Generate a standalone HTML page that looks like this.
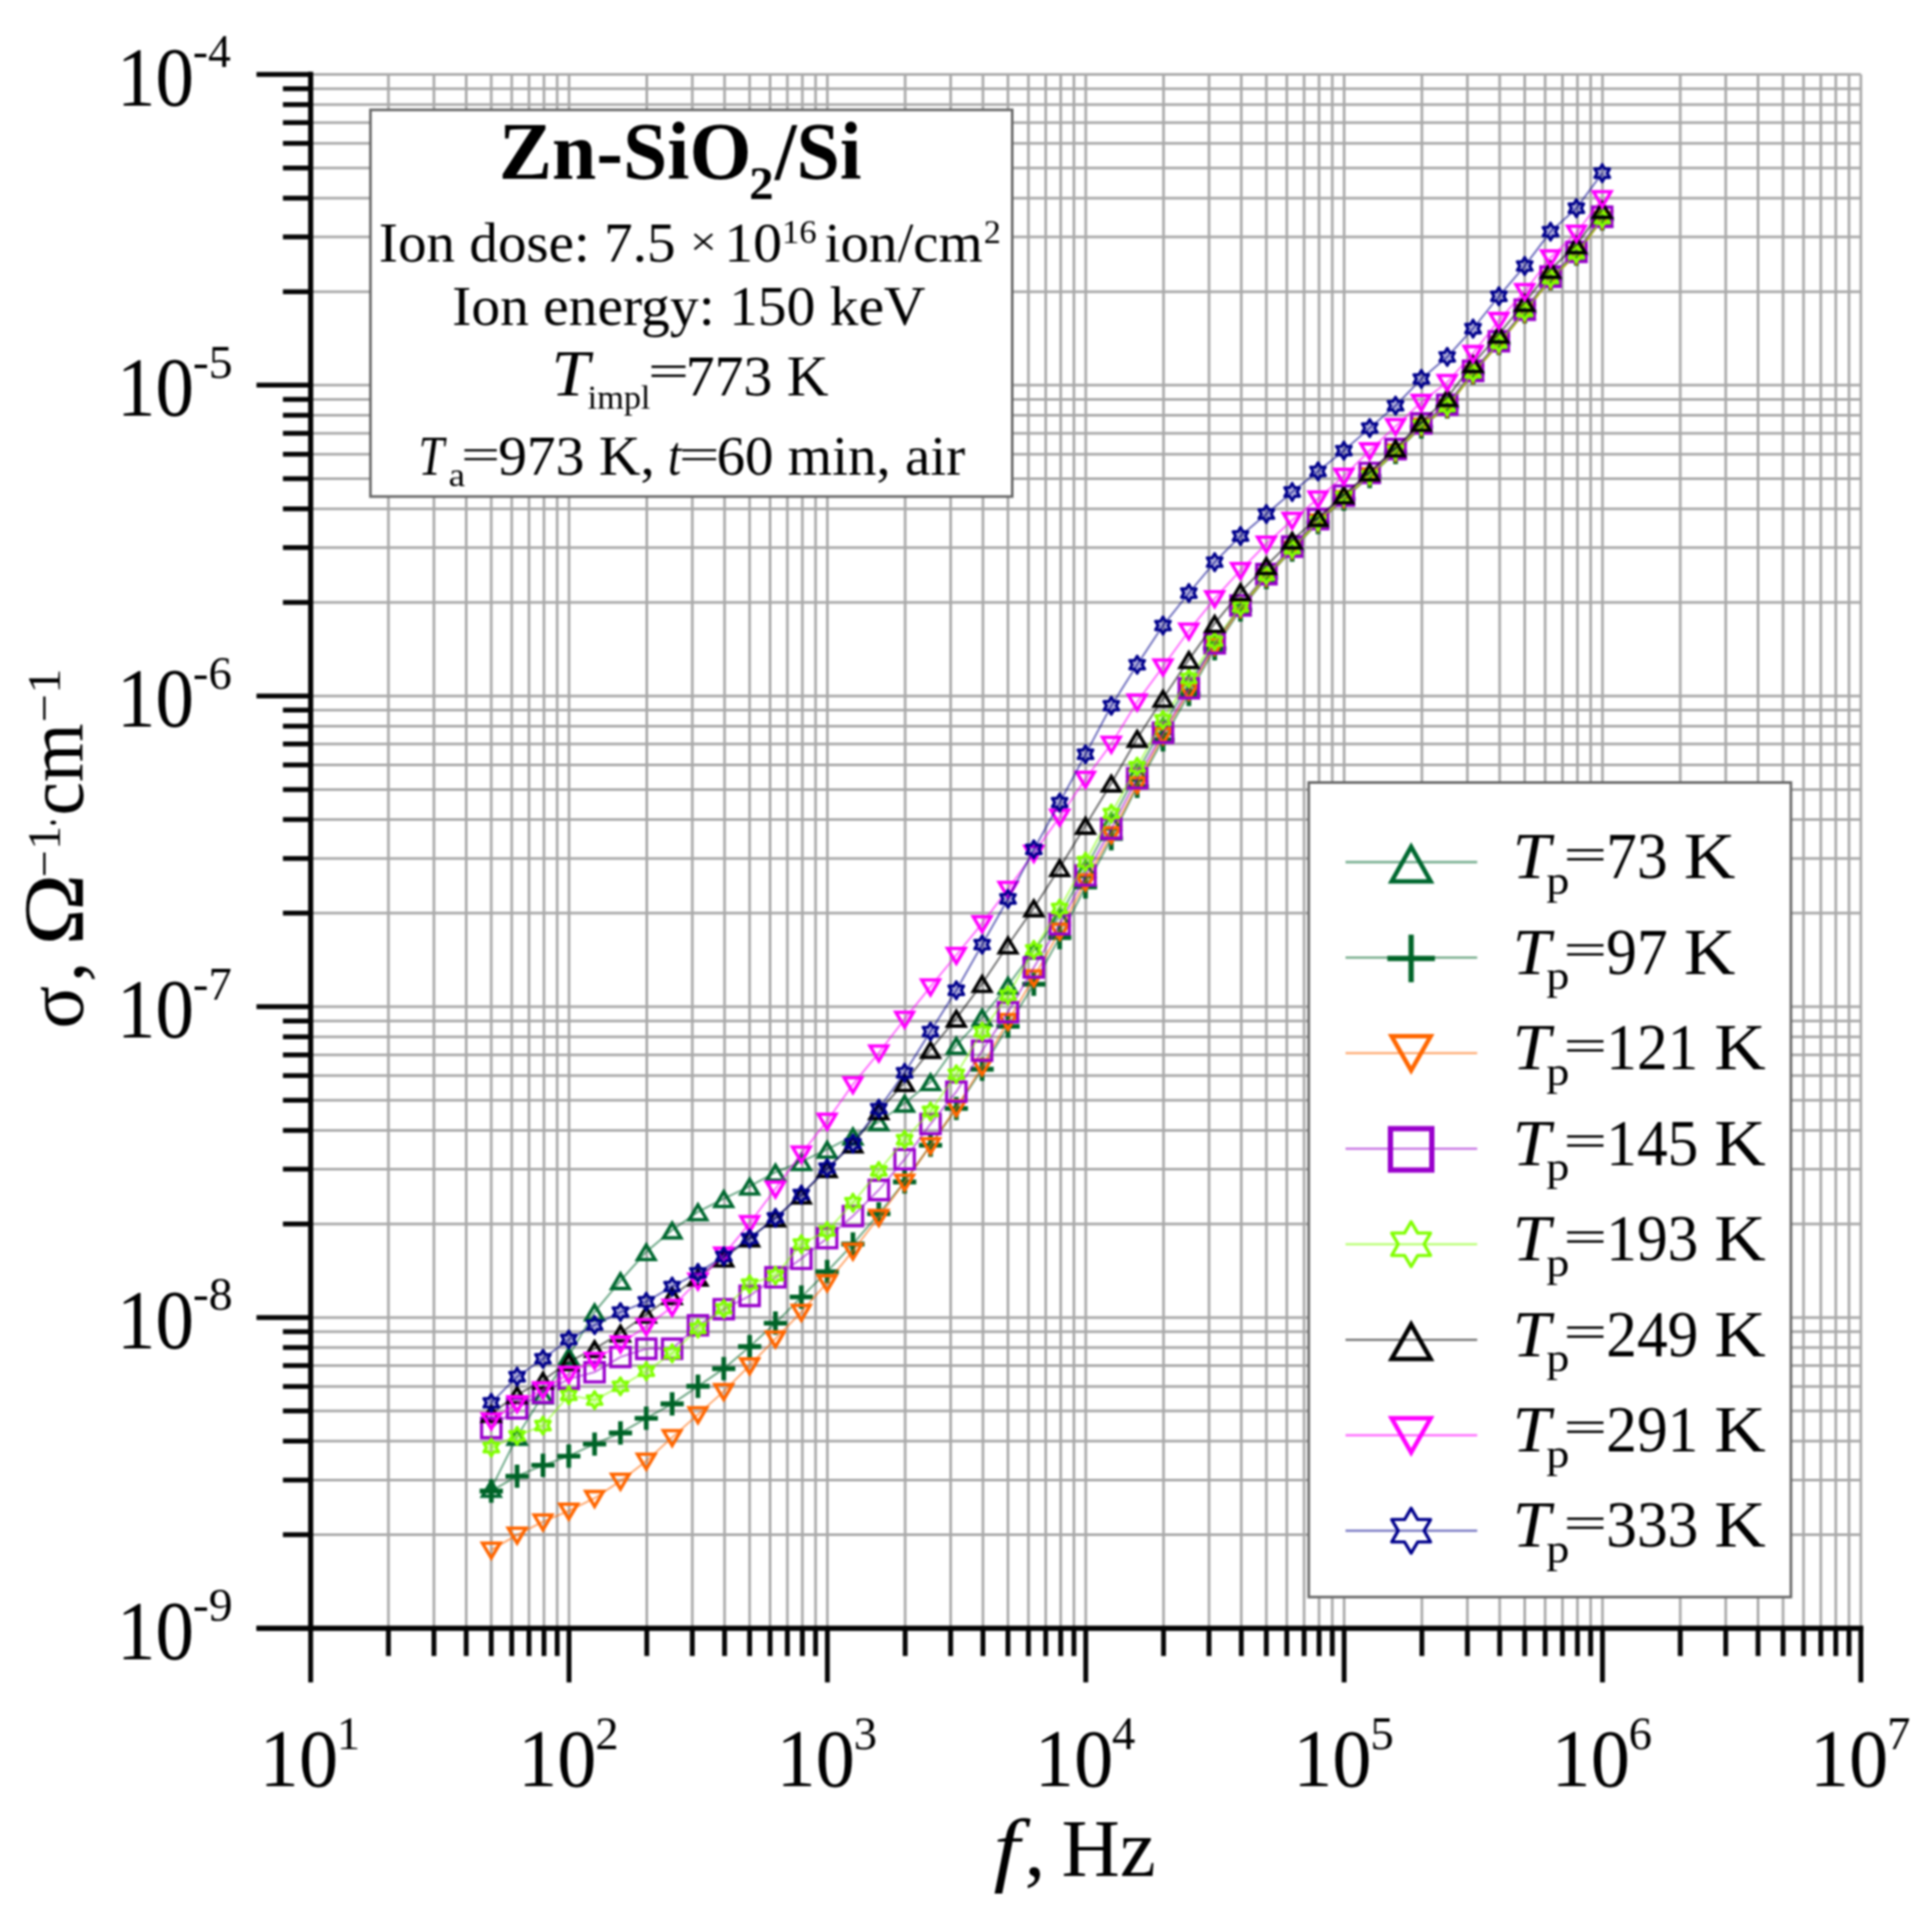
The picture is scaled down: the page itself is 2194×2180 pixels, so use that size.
<!DOCTYPE html>
<html lang="en"><head><meta charset="utf-8"><title>Zn-SiO2/Si conductivity vs frequency</title>
<style>
html,body{margin:0;padding:0;background:#fff;}
body{width:2194px;height:2180px;overflow:hidden;}
svg{display:block;filter:blur(0.8px);}
text{font-family:"Liberation Serif",serif;fill:#000;}
.it{font-style:italic;}
.b{font-weight:bold;}
</style></head><body>
<svg width="2194" height="2180" viewBox="0 0 2194 2180">
<rect x="0" y="0" width="2194" height="2180" fill="#fff"/>
<path d="M441.12 84.50V1848.75M492.79 84.50V1848.75M529.44 84.50V1848.75M557.88 84.50V1848.75M581.11 84.50V1848.75M600.75 84.50V1848.75M617.77 84.50V1848.75M632.77 84.50V1848.75M646.20 84.50V1848.75M734.52 84.50V1848.75M786.19 84.50V1848.75M822.84 84.50V1848.75M851.28 84.50V1848.75M874.51 84.50V1848.75M894.15 84.50V1848.75M911.17 84.50V1848.75M926.17 84.50V1848.75M939.60 84.50V1848.75M1027.92 84.50V1848.75M1079.59 84.50V1848.75M1116.24 84.50V1848.75M1144.68 84.50V1848.75M1167.91 84.50V1848.75M1187.55 84.50V1848.75M1204.57 84.50V1848.75M1219.57 84.50V1848.75M1233.00 84.50V1848.75M1321.32 84.50V1848.75M1372.99 84.50V1848.75M1409.64 84.50V1848.75M1438.08 84.50V1848.75M1461.31 84.50V1848.75M1480.95 84.50V1848.75M1497.97 84.50V1848.75M1512.97 84.50V1848.75M1526.40 84.50V1848.75M1614.72 84.50V1848.75M1666.39 84.50V1848.75M1703.04 84.50V1848.75M1731.48 84.50V1848.75M1754.71 84.50V1848.75M1774.35 84.50V1848.75M1791.37 84.50V1848.75M1806.37 84.50V1848.75M1819.80 84.50V1848.75M1908.12 84.50V1848.75M1959.79 84.50V1848.75M1996.44 84.50V1848.75M2024.88 84.50V1848.75M2048.11 84.50V1848.75M2067.75 84.50V1848.75M2084.77 84.50V1848.75M2099.77 84.50V1848.75M2113.20 84.50V1848.75M352.80 1742.53H2113.20M352.80 1680.40H2113.20M352.80 1636.31H2113.20M352.80 1602.12H2113.20M352.80 1574.18H2113.20M352.80 1550.56H2113.20M352.80 1530.09H2113.20M352.80 1512.05H2113.20M352.80 1495.90H2113.20M352.80 1389.68H2113.20M352.80 1327.55H2113.20M352.80 1283.46H2113.20M352.80 1249.27H2113.20M352.80 1221.33H2113.20M352.80 1197.71H2113.20M352.80 1177.24H2113.20M352.80 1159.20H2113.20M352.80 1143.05H2113.20M352.80 1036.83H2113.20M352.80 974.70H2113.20M352.80 930.61H2113.20M352.80 896.42H2113.20M352.80 868.48H2113.20M352.80 844.86H2113.20M352.80 824.39H2113.20M352.80 806.35H2113.20M352.80 790.20H2113.20M352.80 683.98H2113.20M352.80 621.85H2113.20M352.80 577.76H2113.20M352.80 543.57H2113.20M352.80 515.63H2113.20M352.80 492.01H2113.20M352.80 471.54H2113.20M352.80 453.50H2113.20M352.80 437.35H2113.20M352.80 331.13H2113.20M352.80 269.00H2113.20M352.80 224.91H2113.20M352.80 190.72H2113.20M352.80 162.78H2113.20M352.80 139.16H2113.20M352.80 118.69H2113.20M352.80 100.65H2113.20M352.80 84.50H2113.20" fill="none" stroke="#a9a9a9" stroke-width="3.00"/>
<g id="curves">
<polyline points="557.9,1690.0 587.2,1631.0 616.6,1584.0 645.9,1539.7 675.2,1489.7 704.6,1454.2 733.9,1421.4 763.3,1396.7 792.6,1376.0 821.9,1361.0 851.3,1346.9 880.6,1331.0 910.0,1319.0 939.3,1305.0 968.6,1290.0 998.0,1273.8 1027.3,1252.7 1056.7,1228.4 1086.0,1187.0 1115.3,1155.0 1144.7,1118.8 1174.0,1079.0 1203.4,1040.5 1232.7,986.2 1262.0,932.3 1291.4,877.1 1320.7,824.6 1350.1,775.9 1379.4,731.5 1408.7,688.5 1438.1,652.9 1467.4,621.6 1496.8,590.4 1526.1,563.8 1555.4,538.0 1584.8,510.9 1614.1,481.8 1643.5,460.5 1672.8,422.1 1702.1,388.5 1731.5,352.6 1760.8,315.1 1790.2,287.0 1819.5,247.1" fill="none" stroke="#006830" stroke-width="2.2" stroke-opacity="0.55"/>
<path d="M547.9 1698.8L567.9 1698.8L557.9 1682.0ZM577.2 1639.8L597.2 1639.8L587.2 1623.0ZM606.6 1592.8L626.6 1592.8L616.6 1576.0ZM635.9 1548.5L655.9 1548.5L645.9 1531.7ZM665.2 1498.5L685.2 1498.5L675.2 1481.7ZM694.6 1463.0L714.6 1463.0L704.6 1446.2ZM723.9 1430.2L743.9 1430.2L733.9 1413.4ZM753.3 1405.5L773.3 1405.5L763.3 1388.7ZM782.6 1384.8L802.6 1384.8L792.6 1368.0ZM811.9 1369.8L831.9 1369.8L821.9 1353.0ZM841.3 1355.7L861.3 1355.7L851.3 1338.9ZM870.6 1339.8L890.6 1339.8L880.6 1323.0ZM900.0 1327.8L920.0 1327.8L910.0 1311.0ZM929.3 1313.8L949.3 1313.8L939.3 1297.0ZM958.6 1298.8L978.6 1298.8L968.6 1282.0ZM988.0 1282.5L1008.0 1282.5L998.0 1265.8ZM1017.3 1261.5L1037.3 1261.5L1027.3 1244.7ZM1046.7 1237.2L1066.7 1237.2L1056.7 1220.4ZM1076.0 1195.8L1096.0 1195.8L1086.0 1179.0ZM1105.3 1163.8L1125.3 1163.8L1115.3 1147.0ZM1134.7 1127.5L1154.7 1127.5L1144.7 1110.8ZM1164.0 1087.8L1184.0 1087.8L1174.0 1071.0ZM1193.4 1049.3L1213.4 1049.3L1203.4 1032.5ZM1222.7 995.0L1242.7 995.0L1232.7 978.2ZM1252.0 941.1L1272.0 941.1L1262.0 924.3ZM1281.4 885.9L1301.4 885.9L1291.4 869.1ZM1310.7 833.4L1330.7 833.4L1320.7 816.6ZM1340.1 784.7L1360.1 784.7L1350.1 767.9ZM1369.4 740.3L1389.4 740.3L1379.4 723.5ZM1398.7 697.3L1418.7 697.3L1408.7 680.5ZM1428.1 661.7L1448.1 661.7L1438.1 644.9ZM1457.4 630.4L1477.4 630.4L1467.4 613.6ZM1486.8 599.2L1506.8 599.2L1496.8 582.4ZM1516.1 572.6L1536.1 572.6L1526.1 555.8ZM1545.4 546.8L1565.4 546.8L1555.4 530.0ZM1574.8 519.7L1594.8 519.7L1584.8 502.9ZM1604.1 490.6L1624.1 490.6L1614.1 473.8ZM1633.5 469.3L1653.5 469.3L1643.5 452.5ZM1662.8 430.9L1682.8 430.9L1672.8 414.1ZM1692.1 397.3L1712.1 397.3L1702.1 380.5ZM1721.5 361.4L1741.5 361.4L1731.5 344.6ZM1750.8 323.9L1770.8 323.9L1760.8 307.1ZM1780.2 295.8L1800.2 295.8L1790.2 279.0ZM1809.5 255.9L1829.5 255.9L1819.5 239.1Z" fill="none" stroke="#006830" stroke-width="3.8" stroke-linejoin="miter"/>
<polyline points="557.9,1693.0 587.2,1676.1 616.6,1663.7 645.9,1653.3 675.2,1639.6 704.6,1627.0 733.9,1610.3 763.3,1594.0 792.6,1574.0 821.9,1554.0 851.3,1529.0 880.6,1502.3 910.0,1472.7 939.3,1443.8 968.6,1412.5 998.0,1378.1 1027.3,1342.0 1056.7,1300.3 1086.0,1258.6 1115.3,1214.0 1144.7,1165.4 1174.0,1117.5 1203.4,1064.5 1232.7,1007.0 1262.0,952.2 1291.4,892.8 1320.7,840.0 1350.1,788.5 1379.4,736.5 1408.7,692.5 1438.1,655.9 1467.4,624.6 1496.8,593.4 1526.1,566.8 1555.4,541.0 1584.8,513.9 1614.1,484.8 1643.5,462.0 1672.8,423.6 1702.1,390.0 1731.5,354.1 1760.8,316.6 1790.2,288.5 1819.5,248.6" fill="none" stroke="#006428" stroke-width="2.2" stroke-opacity="0.55"/>
<path d="M544.7 1693.0H571.1M557.9 1679.8V1706.2M574.0 1676.1H600.4M587.2 1662.9V1689.3M603.4 1663.7H629.8M616.6 1650.5V1676.9M632.7 1653.3H659.1M645.9 1640.1V1666.5M662.0 1639.6H688.4M675.2 1626.4V1652.8M691.4 1627.0H717.8M704.6 1613.8V1640.2M720.7 1610.3H747.1M733.9 1597.1V1623.5M750.1 1594.0H776.5M763.3 1580.8V1607.2M779.4 1574.0H805.8M792.6 1560.8V1587.2M808.7 1554.0H835.1M821.9 1540.8V1567.2M838.1 1529.0H864.5M851.3 1515.8V1542.2M867.4 1502.3H893.8M880.6 1489.1V1515.5M896.8 1472.7H923.2M910.0 1459.5V1485.9M926.1 1443.8H952.5M939.3 1430.5V1457.0M955.4 1412.5H981.8M968.6 1399.3V1425.7M984.8 1378.1H1011.2M998.0 1364.9V1391.3M1014.1 1342.0H1040.5M1027.3 1328.8V1355.2M1043.5 1300.3H1069.9M1056.7 1287.1V1313.5M1072.8 1258.6H1099.2M1086.0 1245.4V1271.8M1102.1 1214.0H1128.5M1115.3 1200.8V1227.2M1131.5 1165.4H1157.9M1144.7 1152.2V1178.6M1160.8 1117.5H1187.2M1174.0 1104.3V1130.7M1190.2 1064.5H1216.6M1203.4 1051.3V1077.7M1219.5 1007.0H1245.9M1232.7 993.8V1020.2M1248.8 952.2H1275.2M1262.0 939.0V965.4M1278.2 892.8H1304.6M1291.4 879.6V906.0M1307.5 840.0H1333.9M1320.7 826.8V853.2M1336.9 788.5H1363.3M1350.1 775.3V801.7M1366.2 736.5H1392.6M1379.4 723.3V749.7M1395.5 692.5H1421.9M1408.7 679.3V705.7M1424.9 655.9H1451.3M1438.1 642.7V669.1M1454.2 624.6H1480.6M1467.4 611.4V637.8M1483.6 593.4H1510.0M1496.8 580.2V606.6M1512.9 566.8H1539.3M1526.1 553.6V580.0M1542.2 541.0H1568.6M1555.4 527.8V554.2M1571.6 513.9H1598.0M1584.8 500.7V527.1M1600.9 484.8H1627.3M1614.1 471.6V498.0M1630.3 462.0H1656.7M1643.5 448.8V475.2M1659.6 423.6H1686.0M1672.8 410.4V436.8M1688.9 390.0H1715.3M1702.1 376.8V403.2M1718.3 354.1H1744.7M1731.5 340.9V367.3M1747.6 316.6H1774.0M1760.8 303.4V329.8M1777.0 288.5H1803.4M1790.2 275.3V301.7M1806.3 248.6H1832.7M1819.5 235.4V261.8" fill="none" stroke="#006428" stroke-width="5.3" stroke-linejoin="miter"/>
<polyline points="557.9,1759.7 587.2,1742.7 616.6,1727.8 645.9,1715.4 675.2,1701.1 704.6,1681.5 733.9,1658.8 763.3,1632.0 792.6,1606.0 821.9,1579.7 851.3,1550.4 880.6,1520.0 910.0,1489.7 939.3,1456.1 968.6,1420.2 998.0,1381.9 1027.3,1342.0 1056.7,1300.5 1086.0,1257.5 1115.3,1211.0 1144.7,1159.5 1174.0,1110.0 1203.4,1057.0 1232.7,1001.0 1262.0,947.5 1291.4,890.8 1320.7,835.0 1350.1,784.5 1379.4,733.5 1408.7,690.5 1438.1,654.9 1467.4,623.6 1496.8,592.4 1526.1,565.8 1555.4,540.0 1584.8,512.9 1614.1,483.8 1643.5,462.5 1672.8,424.1 1702.1,390.5 1731.5,354.6 1760.8,317.1 1790.2,289.0 1819.5,249.1" fill="none" stroke="#ff6600" stroke-width="2.2" stroke-opacity="0.55"/>
<path d="M547.9 1752.1L567.9 1752.1L557.9 1769.0ZM577.2 1735.1L597.2 1735.1L587.2 1752.0ZM606.6 1720.2L626.6 1720.2L616.6 1737.1ZM635.9 1707.8L655.9 1707.8L645.9 1724.7ZM665.2 1693.5L685.2 1693.5L675.2 1710.4ZM694.6 1673.9L714.6 1673.9L704.6 1690.8ZM723.9 1651.2L743.9 1651.2L733.9 1668.1ZM753.3 1624.4L773.3 1624.4L763.3 1641.3ZM782.6 1598.4L802.6 1598.4L792.6 1615.3ZM811.9 1572.1L831.9 1572.1L821.9 1589.0ZM841.3 1542.8L861.3 1542.8L851.3 1559.7ZM870.6 1512.4L890.6 1512.4L880.6 1529.3ZM900.0 1482.1L920.0 1482.1L910.0 1499.0ZM929.3 1448.5L949.3 1448.5L939.3 1465.4ZM958.6 1412.6L978.6 1412.6L968.6 1429.5ZM988.0 1374.3L1008.0 1374.3L998.0 1391.2ZM1017.3 1334.4L1037.3 1334.4L1027.3 1351.3ZM1046.7 1292.9L1066.7 1292.9L1056.7 1309.8ZM1076.0 1249.9L1096.0 1249.9L1086.0 1266.8ZM1105.3 1203.4L1125.3 1203.4L1115.3 1220.3ZM1134.7 1151.9L1154.7 1151.9L1144.7 1168.8ZM1164.0 1102.4L1184.0 1102.4L1174.0 1119.3ZM1193.4 1049.4L1213.4 1049.4L1203.4 1066.3ZM1222.7 993.4L1242.7 993.4L1232.7 1010.3ZM1252.0 939.9L1272.0 939.9L1262.0 956.8ZM1281.4 883.2L1301.4 883.2L1291.4 900.1ZM1310.7 827.4L1330.7 827.4L1320.7 844.3ZM1340.1 776.9L1360.1 776.9L1350.1 793.8ZM1369.4 725.9L1389.4 725.9L1379.4 742.8ZM1398.7 682.9L1418.7 682.9L1408.7 699.8ZM1428.1 647.3L1448.1 647.3L1438.1 664.2ZM1457.4 616.0L1477.4 616.0L1467.4 632.9ZM1486.8 584.8L1506.8 584.8L1496.8 601.7ZM1516.1 558.2L1536.1 558.2L1526.1 575.1ZM1545.4 532.4L1565.4 532.4L1555.4 549.3ZM1574.8 505.3L1594.8 505.3L1584.8 522.2ZM1604.1 476.2L1624.1 476.2L1614.1 493.1ZM1633.5 454.9L1653.5 454.9L1643.5 471.8ZM1662.8 416.5L1682.8 416.5L1672.8 433.4ZM1692.1 382.9L1712.1 382.9L1702.1 399.8ZM1721.5 347.0L1741.5 347.0L1731.5 363.9ZM1750.8 309.5L1770.8 309.5L1760.8 326.4ZM1780.2 281.4L1800.2 281.4L1790.2 298.3ZM1809.5 241.5L1829.5 241.5L1819.5 258.4Z" fill="none" stroke="#ff6600" stroke-width="3.8" stroke-linejoin="miter"/>
<polyline points="557.9,1621.4 587.2,1599.0 616.6,1581.4 645.9,1565.8 675.2,1558.0 704.6,1540.8 733.9,1531.4 763.3,1531.4 792.6,1504.8 821.9,1486.5 851.3,1471.4 880.6,1450.3 910.0,1429.2 939.3,1405.8 968.6,1380.8 998.0,1351.1 1027.3,1316.3 1056.7,1276.2 1086.0,1239.5 1115.3,1193.0 1144.7,1149.2 1174.0,1098.5 1203.4,1049.5 1232.7,994.0 1262.0,940.9 1291.4,883.8 1320.7,832.0 1350.1,781.5 1379.4,730.5 1408.7,687.5 1438.1,651.9 1467.4,620.6 1496.8,589.4 1526.1,562.8 1555.4,537.0 1584.8,509.9 1614.1,480.8 1643.5,459.5 1672.8,421.1 1702.1,387.5 1731.5,351.6 1760.8,314.1 1790.2,286.0 1819.5,246.1" fill="none" stroke="#9900cc" stroke-width="2.2" stroke-opacity="0.55"/>
<path d="M546.9 1610.4H568.9V1632.4H546.9ZM576.2 1588.0H598.2V1610.0H576.2ZM605.6 1570.4H627.6V1592.4H605.6ZM634.9 1554.8H656.9V1576.8H634.9ZM664.2 1547.0H686.2V1569.0H664.2ZM693.6 1529.8H715.6V1551.8H693.6ZM722.9 1520.4H744.9V1542.4H722.9ZM752.3 1520.4H774.3V1542.4H752.3ZM781.6 1493.8H803.6V1515.8H781.6ZM810.9 1475.5H832.9V1497.5H810.9ZM840.3 1460.4H862.3V1482.4H840.3ZM869.6 1439.3H891.6V1461.3H869.6ZM899.0 1418.2H921.0V1440.2H899.0ZM928.3 1394.8H950.3V1416.8H928.3ZM957.6 1369.8H979.6V1391.8H957.6ZM987.0 1340.1H1009.0V1362.1H987.0ZM1016.3 1305.3H1038.3V1327.3H1016.3ZM1045.7 1265.2H1067.7V1287.2H1045.7ZM1075.0 1228.5H1097.0V1250.5H1075.0ZM1104.3 1182.0H1126.3V1204.0H1104.3ZM1133.7 1138.2H1155.7V1160.2H1133.7ZM1163.0 1087.5H1185.0V1109.5H1163.0ZM1192.4 1038.5H1214.4V1060.5H1192.4ZM1221.7 983.0H1243.7V1005.0H1221.7ZM1251.0 929.9H1273.0V951.9H1251.0ZM1280.4 872.8H1302.4V894.8H1280.4ZM1309.7 821.0H1331.7V843.0H1309.7ZM1339.1 770.5H1361.1V792.5H1339.1ZM1368.4 719.5H1390.4V741.5H1368.4ZM1397.7 676.5H1419.7V698.5H1397.7ZM1427.1 640.9H1449.1V662.9H1427.1ZM1456.4 609.6H1478.4V631.6H1456.4ZM1485.8 578.4H1507.8V600.4H1485.8ZM1515.1 551.8H1537.1V573.8H1515.1ZM1544.4 526.0H1566.4V548.0H1544.4ZM1573.8 498.9H1595.8V520.9H1573.8ZM1603.1 469.8H1625.1V491.8H1603.1ZM1632.5 448.5H1654.5V470.5H1632.5ZM1661.8 410.1H1683.8V432.1H1661.8ZM1691.1 376.5H1713.1V398.5H1691.1ZM1720.5 340.6H1742.5V362.6H1720.5ZM1749.8 303.1H1771.8V325.1H1749.8ZM1779.2 275.0H1801.2V297.0H1779.2ZM1808.5 235.1H1830.5V257.1H1808.5Z" fill="none" stroke="#9900cc" stroke-width="3.6" stroke-linejoin="miter"/>
<polyline points="557.9,1643.6 587.2,1630.3 616.6,1618.6 645.9,1584.2 675.2,1589.7 704.6,1574.0 733.9,1556.9 763.3,1536.6 792.6,1508.4 821.9,1486.0 851.3,1458.0 880.6,1448.4 910.0,1412.5 939.3,1397.7 968.6,1365.6 998.0,1329.5 1027.3,1294.0 1056.7,1261.9 1086.0,1219.7 1115.3,1171.2 1144.7,1130.0 1174.0,1078.5 1203.4,1031.6 1232.7,978.4 1262.0,923.8 1291.4,870.5 1320.7,817.3 1350.1,770.3 1379.4,728.0 1408.7,689.0 1438.1,653.0 1467.4,623.0 1496.8,592.0 1526.1,564.0 1555.4,540.0 1584.8,511.9 1614.1,482.8 1643.5,461.5 1672.8,423.1 1702.1,389.5 1731.5,353.6 1760.8,316.1 1790.2,288.0 1819.5,248.1" fill="none" stroke="#80ff00" stroke-width="2.2" stroke-opacity="0.55"/>
<path d="M557.9 1633.8L560.7 1638.7L566.4 1638.7L563.5 1643.6L566.4 1648.5L560.7 1648.5L557.9 1653.4L555.0 1648.5L549.4 1648.5L552.2 1643.6L549.4 1638.7L555.0 1638.7ZM587.2 1620.5L590.0 1625.4L595.7 1625.4L592.9 1630.3L595.7 1635.2L590.0 1635.2L587.2 1640.1L584.4 1635.2L578.7 1635.2L581.6 1630.3L578.7 1625.4L584.4 1625.4ZM616.6 1608.8L619.4 1613.7L625.0 1613.7L622.2 1618.6L625.0 1623.5L619.4 1623.5L616.6 1628.4L613.7 1623.5L608.1 1623.5L610.9 1618.6L608.1 1613.7L613.7 1613.7ZM645.9 1574.4L648.7 1579.3L654.4 1579.3L651.6 1584.2L654.4 1589.1L648.7 1589.1L645.9 1594.0L643.1 1589.1L637.4 1589.1L640.2 1584.2L637.4 1579.3L643.1 1579.3ZM675.2 1579.9L678.1 1584.8L683.7 1584.8L680.9 1589.7L683.7 1594.6L678.1 1594.6L675.2 1599.5L672.4 1594.6L666.8 1594.6L669.6 1589.7L666.8 1584.8L672.4 1584.8ZM704.6 1564.2L707.4 1569.1L713.1 1569.1L710.2 1574.0L713.1 1578.9L707.4 1578.9L704.6 1583.8L701.7 1578.9L696.1 1578.9L698.9 1574.0L696.1 1569.1L701.7 1569.1ZM733.9 1547.1L736.7 1552.0L742.4 1552.0L739.6 1556.9L742.4 1561.8L736.7 1561.8L733.9 1566.7L731.1 1561.8L725.4 1561.8L728.3 1556.9L725.4 1552.0L731.1 1552.0ZM763.3 1526.8L766.1 1531.7L771.7 1531.7L768.9 1536.6L771.7 1541.5L766.1 1541.5L763.3 1546.4L760.4 1541.5L754.8 1541.5L757.6 1536.6L754.8 1531.7L760.4 1531.7ZM792.6 1498.6L795.4 1503.5L801.1 1503.5L798.3 1508.4L801.1 1513.3L795.4 1513.3L792.6 1518.2L789.8 1513.3L784.1 1513.3L786.9 1508.4L784.1 1503.5L789.8 1503.5ZM821.9 1476.2L824.8 1481.1L830.4 1481.1L827.6 1486.0L830.4 1490.9L824.8 1490.9L821.9 1495.8L819.1 1490.9L813.5 1490.9L816.3 1486.0L813.5 1481.1L819.1 1481.1ZM851.3 1448.2L854.1 1453.1L859.8 1453.1L856.9 1458.0L859.8 1462.9L854.1 1462.9L851.3 1467.8L848.4 1462.9L842.8 1462.9L845.6 1458.0L842.8 1453.1L848.4 1453.1ZM880.6 1438.6L883.4 1443.5L889.1 1443.5L886.3 1448.4L889.1 1453.3L883.4 1453.3L880.6 1458.2L877.8 1453.3L872.1 1453.3L875.0 1448.4L872.1 1443.5L877.8 1443.5ZM910.0 1402.7L912.8 1407.6L918.4 1407.6L915.6 1412.5L918.4 1417.4L912.8 1417.4L910.0 1422.3L907.1 1417.4L901.5 1417.4L904.3 1412.5L901.5 1407.6L907.1 1407.6ZM939.3 1387.9L942.1 1392.8L947.8 1392.8L945.0 1397.7L947.8 1402.6L942.1 1402.6L939.3 1407.5L936.5 1402.6L930.8 1402.6L933.6 1397.7L930.8 1392.8L936.5 1392.8ZM968.6 1355.8L971.5 1360.7L977.1 1360.7L974.3 1365.6L977.1 1370.5L971.5 1370.5L968.6 1375.4L965.8 1370.5L960.2 1370.5L963.0 1365.6L960.2 1360.7L965.8 1360.7ZM998.0 1319.7L1000.8 1324.6L1006.5 1324.6L1003.6 1329.5L1006.5 1334.4L1000.8 1334.4L998.0 1339.3L995.1 1334.4L989.5 1334.4L992.3 1329.5L989.5 1324.6L995.1 1324.6ZM1027.3 1284.2L1030.1 1289.1L1035.8 1289.1L1033.0 1294.0L1035.8 1298.9L1030.1 1298.9L1027.3 1303.8L1024.5 1298.9L1018.8 1298.9L1021.7 1294.0L1018.8 1289.1L1024.5 1289.1ZM1056.7 1252.1L1059.5 1257.0L1065.1 1257.0L1062.3 1261.9L1065.1 1266.8L1059.5 1266.8L1056.7 1271.7L1053.8 1266.8L1048.2 1266.8L1051.0 1261.9L1048.2 1257.0L1053.8 1257.0ZM1086.0 1209.9L1088.8 1214.8L1094.5 1214.8L1091.7 1219.7L1094.5 1224.6L1088.8 1224.6L1086.0 1229.5L1083.2 1224.6L1077.5 1224.6L1080.3 1219.7L1077.5 1214.8L1083.2 1214.8ZM1115.3 1161.5L1118.2 1166.3L1123.8 1166.3L1121.0 1171.2L1123.8 1176.2L1118.2 1176.2L1115.3 1181.0L1112.5 1176.2L1106.9 1176.2L1109.7 1171.2L1106.9 1166.3L1112.5 1166.3ZM1144.7 1120.2L1147.5 1125.1L1153.2 1125.1L1150.3 1130.0L1153.2 1134.9L1147.5 1134.9L1144.7 1139.8L1141.8 1134.9L1136.2 1134.9L1139.0 1130.0L1136.2 1125.1L1141.8 1125.1ZM1174.0 1068.7L1176.8 1073.6L1182.5 1073.6L1179.7 1078.5L1182.5 1083.4L1176.8 1083.4L1174.0 1088.3L1171.2 1083.4L1165.5 1083.4L1168.4 1078.5L1165.5 1073.6L1171.2 1073.6ZM1203.4 1021.8L1206.2 1026.7L1211.8 1026.7L1209.0 1031.6L1211.8 1036.5L1206.2 1036.5L1203.4 1041.4L1200.5 1036.5L1194.9 1036.5L1197.7 1031.6L1194.9 1026.7L1200.5 1026.7ZM1232.7 968.6L1235.5 973.5L1241.2 973.5L1238.4 978.4L1241.2 983.3L1235.5 983.3L1232.7 988.2L1229.9 983.3L1224.2 983.3L1227.0 978.4L1224.2 973.5L1229.9 973.5ZM1262.0 914.0L1264.9 918.9L1270.5 918.9L1267.7 923.8L1270.5 928.6L1264.9 928.6L1262.0 933.5L1259.2 928.6L1253.6 928.6L1256.4 923.8L1253.6 918.9L1259.2 918.9ZM1291.4 860.7L1294.2 865.6L1299.9 865.6L1297.0 870.5L1299.9 875.4L1294.2 875.4L1291.4 880.3L1288.5 875.4L1282.9 875.4L1285.7 870.5L1282.9 865.6L1288.5 865.6ZM1320.7 807.5L1323.5 812.4L1329.2 812.4L1326.4 817.3L1329.2 822.2L1323.5 822.2L1320.7 827.1L1317.9 822.2L1312.2 822.2L1315.1 817.3L1312.2 812.4L1317.9 812.4ZM1350.1 760.5L1352.9 765.4L1358.5 765.4L1355.7 770.3L1358.5 775.2L1352.9 775.2L1350.1 780.1L1347.2 775.2L1341.6 775.2L1344.4 770.3L1341.6 765.4L1347.2 765.4ZM1379.4 718.2L1382.2 723.1L1387.9 723.1L1385.1 728.0L1387.9 732.9L1382.2 732.9L1379.4 737.8L1376.6 732.9L1370.9 732.9L1373.7 728.0L1370.9 723.1L1376.6 723.1ZM1408.7 679.2L1411.6 684.1L1417.2 684.1L1414.4 689.0L1417.2 693.9L1411.6 693.9L1408.7 698.8L1405.9 693.9L1400.3 693.9L1403.1 689.0L1400.3 684.1L1405.9 684.1ZM1438.1 643.2L1440.9 648.1L1446.6 648.1L1443.7 653.0L1446.6 657.9L1440.9 657.9L1438.1 662.8L1435.2 657.9L1429.6 657.9L1432.4 653.0L1429.6 648.1L1435.2 648.1ZM1467.4 613.2L1470.2 618.1L1475.9 618.1L1473.1 623.0L1475.9 627.9L1470.2 627.9L1467.4 632.8L1464.6 627.9L1458.9 627.9L1461.8 623.0L1458.9 618.1L1464.6 618.1ZM1496.8 582.2L1499.6 587.1L1505.2 587.1L1502.4 592.0L1505.2 596.9L1499.6 596.9L1496.8 601.8L1493.9 596.9L1488.3 596.9L1491.1 592.0L1488.3 587.1L1493.9 587.1ZM1526.1 554.2L1528.9 559.1L1534.6 559.1L1531.8 564.0L1534.6 568.9L1528.9 568.9L1526.1 573.8L1523.3 568.9L1517.6 568.9L1520.4 564.0L1517.6 559.1L1523.3 559.1ZM1555.4 530.2L1558.3 535.1L1563.9 535.1L1561.1 540.0L1563.9 544.9L1558.3 544.9L1555.4 549.8L1552.6 544.9L1547.0 544.9L1549.8 540.0L1547.0 535.1L1552.6 535.1ZM1584.8 502.1L1587.6 507.0L1593.3 507.0L1590.4 511.9L1593.3 516.8L1587.6 516.8L1584.8 521.7L1581.9 516.8L1576.3 516.8L1579.1 511.9L1576.3 507.0L1581.9 507.0ZM1614.1 473.0L1616.9 477.9L1622.6 477.9L1619.8 482.8L1622.6 487.7L1616.9 487.7L1614.1 492.6L1611.3 487.7L1605.6 487.7L1608.5 482.8L1605.6 477.9L1611.3 477.9ZM1643.5 451.7L1646.3 456.6L1651.9 456.6L1649.1 461.5L1651.9 466.4L1646.3 466.4L1643.5 471.3L1640.6 466.4L1635.0 466.4L1637.8 461.5L1635.0 456.6L1640.6 456.6ZM1672.8 413.3L1675.6 418.2L1681.3 418.2L1678.5 423.1L1681.3 428.0L1675.6 428.0L1672.8 432.9L1670.0 428.0L1664.3 428.0L1667.1 423.1L1664.3 418.2L1670.0 418.2ZM1702.1 379.7L1705.0 384.6L1710.6 384.6L1707.8 389.5L1710.6 394.4L1705.0 394.4L1702.1 399.3L1699.3 394.4L1693.7 394.4L1696.5 389.5L1693.7 384.6L1699.3 384.6ZM1731.5 343.8L1734.3 348.7L1740.0 348.7L1737.1 353.6L1740.0 358.5L1734.3 358.5L1731.5 363.4L1728.6 358.5L1723.0 358.5L1725.8 353.6L1723.0 348.7L1728.6 348.7ZM1760.8 306.3L1763.6 311.2L1769.3 311.2L1766.5 316.1L1769.3 321.0L1763.6 321.0L1760.8 325.9L1758.0 321.0L1752.3 321.0L1755.2 316.1L1752.3 311.2L1758.0 311.2ZM1790.2 278.2L1793.0 283.1L1798.6 283.1L1795.8 288.0L1798.6 292.9L1793.0 292.9L1790.2 297.8L1787.3 292.9L1781.7 292.9L1784.5 288.0L1781.7 283.1L1787.3 283.1ZM1819.5 238.3L1822.3 243.2L1828.0 243.2L1825.2 248.1L1828.0 253.0L1822.3 253.0L1819.5 257.9L1816.7 253.0L1811.0 253.0L1813.8 248.1L1811.0 243.2L1816.7 243.2Z" fill="#80ff00" fill-opacity="0.3" stroke="#80ff00" stroke-width="3.3" stroke-linejoin="round"/>
<polyline points="557.9,1605.0 587.2,1583.8 616.6,1567.4 645.9,1546.3 675.2,1531.4 704.6,1513.7 733.9,1492.4 763.3,1471.3 792.6,1450.2 821.9,1428.5 851.3,1405.8 880.6,1383.0 910.0,1357.0 939.3,1327.0 968.6,1299.0 998.0,1261.4 1027.3,1229.4 1056.7,1191.9 1086.0,1156.2 1115.3,1116.8 1144.7,1073.0 1174.0,1031.0 1203.4,985.3 1232.7,937.2 1262.0,889.4 1291.4,838.5 1320.7,793.0 1350.1,749.0 1379.4,708.0 1408.7,672.0 1438.1,642.3 1467.4,613.4 1496.8,587.7 1526.1,562.0 1555.4,536.0 1584.8,508.9 1614.1,479.8 1643.5,451.5 1672.8,413.1 1702.1,379.5 1731.5,343.6 1760.8,306.1 1790.2,278.0 1819.5,238.1" fill="none" stroke="#000000" stroke-width="2.2" stroke-opacity="0.55"/>
<path d="M547.9 1613.8L567.9 1613.8L557.9 1597.0ZM577.2 1592.6L597.2 1592.6L587.2 1575.8ZM606.6 1576.2L626.6 1576.2L616.6 1559.4ZM635.9 1555.1L655.9 1555.1L645.9 1538.3ZM665.2 1540.2L685.2 1540.2L675.2 1523.4ZM694.6 1522.5L714.6 1522.5L704.6 1505.7ZM723.9 1501.2L743.9 1501.2L733.9 1484.4ZM753.3 1480.1L773.3 1480.1L763.3 1463.3ZM782.6 1459.0L802.6 1459.0L792.6 1442.2ZM811.9 1437.3L831.9 1437.3L821.9 1420.5ZM841.3 1414.6L861.3 1414.6L851.3 1397.8ZM870.6 1391.8L890.6 1391.8L880.6 1375.0ZM900.0 1365.8L920.0 1365.8L910.0 1349.0ZM929.3 1335.8L949.3 1335.8L939.3 1319.0ZM958.6 1307.8L978.6 1307.8L968.6 1291.0ZM988.0 1270.2L1008.0 1270.2L998.0 1253.4ZM1017.3 1238.2L1037.3 1238.2L1027.3 1221.4ZM1046.7 1200.7L1066.7 1200.7L1056.7 1183.9ZM1076.0 1165.0L1096.0 1165.0L1086.0 1148.2ZM1105.3 1125.6L1125.3 1125.6L1115.3 1108.8ZM1134.7 1081.8L1154.7 1081.8L1144.7 1065.0ZM1164.0 1039.8L1184.0 1039.8L1174.0 1023.0ZM1193.4 994.1L1213.4 994.1L1203.4 977.3ZM1222.7 946.0L1242.7 946.0L1232.7 929.2ZM1252.0 898.2L1272.0 898.2L1262.0 881.4ZM1281.4 847.3L1301.4 847.3L1291.4 830.5ZM1310.7 801.8L1330.7 801.8L1320.7 785.0ZM1340.1 757.8L1360.1 757.8L1350.1 741.0ZM1369.4 716.8L1389.4 716.8L1379.4 700.0ZM1398.7 680.8L1418.7 680.8L1408.7 664.0ZM1428.1 651.1L1448.1 651.1L1438.1 634.3ZM1457.4 622.2L1477.4 622.2L1467.4 605.4ZM1486.8 596.5L1506.8 596.5L1496.8 579.7ZM1516.1 570.8L1536.1 570.8L1526.1 554.0ZM1545.4 544.8L1565.4 544.8L1555.4 528.0ZM1574.8 517.7L1594.8 517.7L1584.8 500.9ZM1604.1 488.6L1624.1 488.6L1614.1 471.8ZM1633.5 460.3L1653.5 460.3L1643.5 443.5ZM1662.8 421.9L1682.8 421.9L1672.8 405.1ZM1692.1 388.3L1712.1 388.3L1702.1 371.5ZM1721.5 352.4L1741.5 352.4L1731.5 335.6ZM1750.8 314.9L1770.8 314.9L1760.8 298.1ZM1780.2 286.8L1800.2 286.8L1790.2 270.0ZM1809.5 246.9L1829.5 246.9L1819.5 230.1Z" fill="none" stroke="#000000" stroke-width="3.8" stroke-linejoin="miter"/>
<polyline points="557.9,1613.0 587.2,1593.5 616.6,1577.8 645.9,1560.0 675.2,1544.2 704.6,1525.6 733.9,1506.0 763.3,1484.0 792.6,1454.3 821.9,1424.7 851.3,1389.0 880.6,1349.7 910.0,1310.0 939.3,1272.7 968.6,1231.2 998.0,1195.3 1027.3,1157.0 1056.7,1120.3 1086.0,1084.4 1115.3,1048.5 1144.7,1009.5 1174.0,968.6 1203.4,927.5 1232.7,884.4 1262.0,844.7 1291.4,796.8 1320.7,756.9 1350.1,716.2 1379.4,679.5 1408.7,647.5 1438.1,617.4 1467.4,590.5 1496.8,566.2 1526.1,540.5 1555.4,511.6 1584.8,484.0 1614.1,456.6 1643.5,433.9 1672.8,401.1 1702.1,363.6 1731.5,330.8 1760.8,292.5 1790.2,264.4 1819.5,225.3" fill="none" stroke="#ff00ff" stroke-width="2.2" stroke-opacity="0.55"/>
<path d="M547.9 1605.4L567.9 1605.4L557.9 1622.3ZM577.2 1585.9L597.2 1585.9L587.2 1602.8ZM606.6 1570.2L626.6 1570.2L616.6 1587.1ZM635.9 1552.4L655.9 1552.4L645.9 1569.3ZM665.2 1536.6L685.2 1536.6L675.2 1553.5ZM694.6 1518.0L714.6 1518.0L704.6 1534.9ZM723.9 1498.4L743.9 1498.4L733.9 1515.3ZM753.3 1476.4L773.3 1476.4L763.3 1493.3ZM782.6 1446.7L802.6 1446.7L792.6 1463.6ZM811.9 1417.1L831.9 1417.1L821.9 1434.0ZM841.3 1381.4L861.3 1381.4L851.3 1398.3ZM870.6 1342.1L890.6 1342.1L880.6 1359.0ZM900.0 1302.4L920.0 1302.4L910.0 1319.3ZM929.3 1265.1L949.3 1265.1L939.3 1282.0ZM958.6 1223.7L978.6 1223.7L968.6 1240.5ZM988.0 1187.7L1008.0 1187.7L998.0 1204.6ZM1017.3 1149.4L1037.3 1149.4L1027.3 1166.3ZM1046.7 1112.7L1066.7 1112.7L1056.7 1129.6ZM1076.0 1076.8L1096.0 1076.8L1086.0 1093.7ZM1105.3 1040.9L1125.3 1040.9L1115.3 1057.8ZM1134.7 1001.9L1154.7 1001.9L1144.7 1018.8ZM1164.0 961.0L1184.0 961.0L1174.0 977.9ZM1193.4 919.9L1213.4 919.9L1203.4 936.8ZM1222.7 876.8L1242.7 876.8L1232.7 893.7ZM1252.0 837.1L1272.0 837.1L1262.0 854.0ZM1281.4 789.2L1301.4 789.2L1291.4 806.1ZM1310.7 749.3L1330.7 749.3L1320.7 766.2ZM1340.1 708.6L1360.1 708.6L1350.1 725.5ZM1369.4 671.9L1389.4 671.9L1379.4 688.8ZM1398.7 639.9L1418.7 639.9L1408.7 656.8ZM1428.1 609.8L1448.1 609.8L1438.1 626.7ZM1457.4 582.9L1477.4 582.9L1467.4 599.8ZM1486.8 558.6L1506.8 558.6L1496.8 575.5ZM1516.1 532.9L1536.1 532.9L1526.1 549.8ZM1545.4 504.0L1565.4 504.0L1555.4 520.9ZM1574.8 476.4L1594.8 476.4L1584.8 493.3ZM1604.1 449.0L1624.1 449.0L1614.1 465.9ZM1633.5 426.3L1653.5 426.3L1643.5 443.2ZM1662.8 393.5L1682.8 393.5L1672.8 410.4ZM1692.1 356.0L1712.1 356.0L1702.1 372.9ZM1721.5 323.2L1741.5 323.2L1731.5 340.1ZM1750.8 284.9L1770.8 284.9L1760.8 301.8ZM1780.2 256.8L1800.2 256.8L1790.2 273.7ZM1809.5 217.7L1829.5 217.7L1819.5 234.6Z" fill="none" stroke="#ff00ff" stroke-width="3.8" stroke-linejoin="miter"/>
<polyline points="557.9,1592.8 587.2,1563.1 616.6,1542.8 645.9,1520.9 675.2,1504.5 704.6,1489.7 733.9,1478.0 763.3,1460.8 792.6,1445.2 821.9,1426.5 851.3,1406.2 880.6,1382.8 910.0,1356.2 939.3,1326.3 968.6,1298.5 998.0,1258.8 1027.3,1218.1 1056.7,1171.2 1086.0,1124.4 1115.3,1072.5 1144.7,1020.6 1174.0,964.4 1203.4,911.2 1232.7,856.4 1262.0,801.3 1291.4,754.7 1320.7,710.2 1350.1,673.4 1379.4,638.3 1408.7,608.6 1438.1,583.6 1467.4,558.6 1496.8,535.2 1526.1,511.7 1555.4,486.0 1584.8,460.6 1614.1,430.2 1643.5,405.2 1672.8,373.1 1702.1,336.4 1731.5,302.0 1760.8,263.0 1790.2,236.4 1819.5,196.6" fill="none" stroke="#00008c" stroke-width="2.2" stroke-opacity="0.55"/>
<path d="M557.9 1583.0L560.7 1587.9L566.4 1587.9L563.5 1592.8L566.4 1597.7L560.7 1597.7L557.9 1602.6L555.0 1597.7L549.4 1597.7L552.2 1592.8L549.4 1587.9L555.0 1587.9ZM587.2 1553.3L590.0 1558.2L595.7 1558.2L592.9 1563.1L595.7 1568.0L590.0 1568.0L587.2 1572.9L584.4 1568.0L578.7 1568.0L581.6 1563.1L578.7 1558.2L584.4 1558.2ZM616.6 1533.0L619.4 1537.9L625.0 1537.9L622.2 1542.8L625.0 1547.7L619.4 1547.7L616.6 1552.6L613.7 1547.7L608.1 1547.7L610.9 1542.8L608.1 1537.9L613.7 1537.9ZM645.9 1511.1L648.7 1516.0L654.4 1516.0L651.6 1520.9L654.4 1525.8L648.7 1525.8L645.9 1530.7L643.1 1525.8L637.4 1525.8L640.2 1520.9L637.4 1516.0L643.1 1516.0ZM675.2 1494.7L678.1 1499.6L683.7 1499.6L680.9 1504.5L683.7 1509.4L678.1 1509.4L675.2 1514.3L672.4 1509.4L666.8 1509.4L669.6 1504.5L666.8 1499.6L672.4 1499.6ZM704.6 1479.9L707.4 1484.8L713.1 1484.8L710.2 1489.7L713.1 1494.6L707.4 1494.6L704.6 1499.5L701.7 1494.6L696.1 1494.6L698.9 1489.7L696.1 1484.8L701.7 1484.8ZM733.9 1468.2L736.7 1473.1L742.4 1473.1L739.6 1478.0L742.4 1482.9L736.7 1482.9L733.9 1487.8L731.1 1482.9L725.4 1482.9L728.3 1478.0L725.4 1473.1L731.1 1473.1ZM763.3 1451.0L766.1 1455.9L771.7 1455.9L768.9 1460.8L771.7 1465.7L766.1 1465.7L763.3 1470.6L760.4 1465.7L754.8 1465.7L757.6 1460.8L754.8 1455.9L760.4 1455.9ZM792.6 1435.4L795.4 1440.3L801.1 1440.3L798.3 1445.2L801.1 1450.1L795.4 1450.1L792.6 1455.0L789.8 1450.1L784.1 1450.1L786.9 1445.2L784.1 1440.3L789.8 1440.3ZM821.9 1416.7L824.8 1421.6L830.4 1421.6L827.6 1426.5L830.4 1431.4L824.8 1431.4L821.9 1436.3L819.1 1431.4L813.5 1431.4L816.3 1426.5L813.5 1421.6L819.1 1421.6ZM851.3 1396.5L854.1 1401.3L859.8 1401.3L856.9 1406.2L859.8 1411.2L854.1 1411.2L851.3 1416.0L848.4 1411.2L842.8 1411.2L845.6 1406.2L842.8 1401.3L848.4 1401.3ZM880.6 1373.0L883.4 1377.9L889.1 1377.9L886.3 1382.8L889.1 1387.7L883.4 1387.7L880.6 1392.6L877.8 1387.7L872.1 1387.7L875.0 1382.8L872.1 1377.9L877.8 1377.9ZM910.0 1346.5L912.8 1351.3L918.4 1351.3L915.6 1356.2L918.4 1361.2L912.8 1361.2L910.0 1366.0L907.1 1361.2L901.5 1361.2L904.3 1356.2L901.5 1351.3L907.1 1351.3ZM939.3 1316.5L942.1 1321.4L947.8 1321.4L945.0 1326.3L947.8 1331.2L942.1 1331.2L939.3 1336.1L936.5 1331.2L930.8 1331.2L933.6 1326.3L930.8 1321.4L936.5 1321.4ZM968.6 1288.7L971.5 1293.6L977.1 1293.6L974.3 1298.5L977.1 1303.4L971.5 1303.4L968.6 1308.3L965.8 1303.4L960.2 1303.4L963.0 1298.5L960.2 1293.6L965.8 1293.6ZM998.0 1249.0L1000.8 1253.8L1006.5 1253.8L1003.6 1258.8L1006.5 1263.7L1000.8 1263.7L998.0 1268.5L995.1 1263.7L989.5 1263.7L992.3 1258.8L989.5 1253.8L995.1 1253.8ZM1027.3 1208.3L1030.1 1213.2L1035.8 1213.2L1033.0 1218.1L1035.8 1223.0L1030.1 1223.0L1027.3 1227.9L1024.5 1223.0L1018.8 1223.0L1021.7 1218.1L1018.8 1213.2L1024.5 1213.2ZM1056.7 1161.5L1059.5 1166.3L1065.1 1166.3L1062.3 1171.2L1065.1 1176.2L1059.5 1176.2L1056.7 1181.0L1053.8 1176.2L1048.2 1176.2L1051.0 1171.2L1048.2 1166.3L1053.8 1166.3ZM1086.0 1114.6L1088.8 1119.5L1094.5 1119.5L1091.7 1124.4L1094.5 1129.3L1088.8 1129.3L1086.0 1134.2L1083.2 1129.3L1077.5 1129.3L1080.3 1124.4L1077.5 1119.5L1083.2 1119.5ZM1115.3 1062.7L1118.2 1067.6L1123.8 1067.6L1121.0 1072.5L1123.8 1077.4L1118.2 1077.4L1115.3 1082.3L1112.5 1077.4L1106.9 1077.4L1109.7 1072.5L1106.9 1067.6L1112.5 1067.6ZM1144.7 1010.8L1147.5 1015.7L1153.2 1015.7L1150.3 1020.6L1153.2 1025.5L1147.5 1025.5L1144.7 1030.4L1141.8 1025.5L1136.2 1025.5L1139.0 1020.6L1136.2 1015.7L1141.8 1015.7ZM1174.0 954.6L1176.8 959.5L1182.5 959.5L1179.7 964.4L1182.5 969.3L1176.8 969.3L1174.0 974.2L1171.2 969.3L1165.5 969.3L1168.4 964.4L1165.5 959.5L1171.2 959.5ZM1203.4 901.5L1206.2 906.4L1211.8 906.4L1209.0 911.2L1211.8 916.1L1206.2 916.1L1203.4 921.0L1200.5 916.1L1194.9 916.1L1197.7 911.2L1194.9 906.4L1200.5 906.4ZM1232.7 846.6L1235.5 851.5L1241.2 851.5L1238.4 856.4L1241.2 861.3L1235.5 861.3L1232.7 866.2L1229.9 861.3L1224.2 861.3L1227.0 856.4L1224.2 851.5L1229.9 851.5ZM1262.0 791.5L1264.9 796.4L1270.5 796.4L1267.7 801.3L1270.5 806.2L1264.9 806.2L1262.0 811.1L1259.2 806.2L1253.6 806.2L1256.4 801.3L1253.6 796.4L1259.2 796.4ZM1291.4 744.9L1294.2 749.8L1299.9 749.8L1297.0 754.7L1299.9 759.6L1294.2 759.6L1291.4 764.5L1288.5 759.6L1282.9 759.6L1285.7 754.7L1282.9 749.8L1288.5 749.8ZM1320.7 700.4L1323.5 705.3L1329.2 705.3L1326.4 710.2L1329.2 715.1L1323.5 715.1L1320.7 720.0L1317.9 715.1L1312.2 715.1L1315.1 710.2L1312.2 705.3L1317.9 705.3ZM1350.1 663.6L1352.9 668.5L1358.5 668.5L1355.7 673.4L1358.5 678.3L1352.9 678.3L1350.1 683.2L1347.2 678.3L1341.6 678.3L1344.4 673.4L1341.6 668.5L1347.2 668.5ZM1379.4 628.5L1382.2 633.4L1387.9 633.4L1385.1 638.3L1387.9 643.2L1382.2 643.2L1379.4 648.1L1376.6 643.2L1370.9 643.2L1373.7 638.3L1370.9 633.4L1376.6 633.4ZM1408.7 598.8L1411.6 603.7L1417.2 603.7L1414.4 608.6L1417.2 613.5L1411.6 613.5L1408.7 618.4L1405.9 613.5L1400.3 613.5L1403.1 608.6L1400.3 603.7L1405.9 603.7ZM1438.1 573.8L1440.9 578.7L1446.6 578.7L1443.7 583.6L1446.6 588.5L1440.9 588.5L1438.1 593.4L1435.2 588.5L1429.6 588.5L1432.4 583.6L1429.6 578.7L1435.2 578.7ZM1467.4 548.8L1470.2 553.7L1475.9 553.7L1473.1 558.6L1475.9 563.5L1470.2 563.5L1467.4 568.4L1464.6 563.5L1458.9 563.5L1461.8 558.6L1458.9 553.7L1464.6 553.7ZM1496.8 525.4L1499.6 530.3L1505.2 530.3L1502.4 535.2L1505.2 540.1L1499.6 540.1L1496.8 545.0L1493.9 540.1L1488.3 540.1L1491.1 535.2L1488.3 530.3L1493.9 530.3ZM1526.1 501.9L1528.9 506.8L1534.6 506.8L1531.8 511.7L1534.6 516.6L1528.9 516.6L1526.1 521.5L1523.3 516.6L1517.6 516.6L1520.4 511.7L1517.6 506.8L1523.3 506.8ZM1555.4 476.2L1558.3 481.1L1563.9 481.1L1561.1 486.0L1563.9 490.9L1558.3 490.9L1555.4 495.8L1552.6 490.9L1547.0 490.9L1549.8 486.0L1547.0 481.1L1552.6 481.1ZM1584.8 450.8L1587.6 455.7L1593.3 455.7L1590.4 460.6L1593.3 465.5L1587.6 465.5L1584.8 470.4L1581.9 465.5L1576.3 465.5L1579.1 460.6L1576.3 455.7L1581.9 455.7ZM1614.1 420.4L1616.9 425.3L1622.6 425.3L1619.8 430.2L1622.6 435.1L1616.9 435.1L1614.1 440.0L1611.3 435.1L1605.6 435.1L1608.5 430.2L1605.6 425.3L1611.3 425.3ZM1643.5 395.4L1646.3 400.3L1651.9 400.3L1649.1 405.2L1651.9 410.1L1646.3 410.1L1643.5 415.0L1640.6 410.1L1635.0 410.1L1637.8 405.2L1635.0 400.3L1640.6 400.3ZM1672.8 363.3L1675.6 368.2L1681.3 368.2L1678.5 373.1L1681.3 378.0L1675.6 378.0L1672.8 382.9L1670.0 378.0L1664.3 378.0L1667.1 373.1L1664.3 368.2L1670.0 368.2ZM1702.1 326.6L1705.0 331.5L1710.6 331.5L1707.8 336.4L1710.6 341.3L1705.0 341.3L1702.1 346.2L1699.3 341.3L1693.7 341.3L1696.5 336.4L1693.7 331.5L1699.3 331.5ZM1731.5 292.2L1734.3 297.1L1740.0 297.1L1737.1 302.0L1740.0 306.9L1734.3 306.9L1731.5 311.8L1728.6 306.9L1723.0 306.9L1725.8 302.0L1723.0 297.1L1728.6 297.1ZM1760.8 253.2L1763.6 258.1L1769.3 258.1L1766.5 263.0L1769.3 267.9L1763.6 267.9L1760.8 272.8L1758.0 267.9L1752.3 267.9L1755.2 263.0L1752.3 258.1L1758.0 258.1ZM1790.2 226.6L1793.0 231.5L1798.6 231.5L1795.8 236.4L1798.6 241.3L1793.0 241.3L1790.2 246.2L1787.3 241.3L1781.7 241.3L1784.5 236.4L1781.7 231.5L1787.3 231.5ZM1819.5 186.8L1822.3 191.7L1828.0 191.7L1825.2 196.6L1828.0 201.5L1822.3 201.5L1819.5 206.4L1816.7 201.5L1811.0 201.5L1813.8 196.6L1811.0 191.7L1816.7 191.7Z" fill="#00008c" fill-opacity="0.3" stroke="#00008c" stroke-width="3.3" stroke-linejoin="round"/>
</g>
<path d="M352.80 1848.75V1910.25M441.12 1848.75V1880.25M492.79 1848.75V1880.25M529.44 1848.75V1880.25M557.88 1848.75V1880.25M581.11 1848.75V1880.25M600.75 1848.75V1880.25M617.77 1848.75V1880.25M632.77 1848.75V1880.25M646.20 1848.75V1910.25M734.52 1848.75V1880.25M786.19 1848.75V1880.25M822.84 1848.75V1880.25M851.28 1848.75V1880.25M874.51 1848.75V1880.25M894.15 1848.75V1880.25M911.17 1848.75V1880.25M926.17 1848.75V1880.25M939.60 1848.75V1910.25M1027.92 1848.75V1880.25M1079.59 1848.75V1880.25M1116.24 1848.75V1880.25M1144.68 1848.75V1880.25M1167.91 1848.75V1880.25M1187.55 1848.75V1880.25M1204.57 1848.75V1880.25M1219.57 1848.75V1880.25M1233.00 1848.75V1910.25M1321.32 1848.75V1880.25M1372.99 1848.75V1880.25M1409.64 1848.75V1880.25M1438.08 1848.75V1880.25M1461.31 1848.75V1880.25M1480.95 1848.75V1880.25M1497.97 1848.75V1880.25M1512.97 1848.75V1880.25M1526.40 1848.75V1910.25M1614.72 1848.75V1880.25M1666.39 1848.75V1880.25M1703.04 1848.75V1880.25M1731.48 1848.75V1880.25M1754.71 1848.75V1880.25M1774.35 1848.75V1880.25M1791.37 1848.75V1880.25M1806.37 1848.75V1880.25M1819.80 1848.75V1910.25M1908.12 1848.75V1880.25M1959.79 1848.75V1880.25M1996.44 1848.75V1880.25M2024.88 1848.75V1880.25M2048.11 1848.75V1880.25M2067.75 1848.75V1880.25M2084.77 1848.75V1880.25M2099.77 1848.75V1880.25M2113.20 1848.75V1910.25M352.80 1848.75H291.30M352.80 1742.53H321.30M352.80 1680.40H321.30M352.80 1636.31H321.30M352.80 1602.12H321.30M352.80 1574.18H321.30M352.80 1550.56H321.30M352.80 1530.09H321.30M352.80 1512.05H321.30M352.80 1495.90H291.30M352.80 1389.68H321.30M352.80 1327.55H321.30M352.80 1283.46H321.30M352.80 1249.27H321.30M352.80 1221.33H321.30M352.80 1197.71H321.30M352.80 1177.24H321.30M352.80 1159.20H321.30M352.80 1143.05H291.30M352.80 1036.83H321.30M352.80 974.70H321.30M352.80 930.61H321.30M352.80 896.42H321.30M352.80 868.48H321.30M352.80 844.86H321.30M352.80 824.39H321.30M352.80 806.35H321.30M352.80 790.20H291.30M352.80 683.98H321.30M352.80 621.85H321.30M352.80 577.76H321.30M352.80 543.57H321.30M352.80 515.63H321.30M352.80 492.01H321.30M352.80 471.54H321.30M352.80 453.50H321.30M352.80 437.35H291.30M352.80 331.13H321.30M352.80 269.00H321.30M352.80 224.91H321.30M352.80 190.72H321.30M352.80 162.78H321.30M352.80 139.16H321.30M352.80 118.69H321.30M352.80 100.65H321.30M352.80 84.50H291.30" fill="none" stroke="#060606" stroke-width="5.50"/>
<path d="M352.80 81.60V1851.65M291.30 1848.75H2116.10" fill="none" stroke="#030303" stroke-width="5.80"/>
<text transform="translate(294.87 2028.00) scale(0.9537 1.0000)" font-size="93.5" >10</text>
<text x="382.6" y="1985.8" font-size="53">1</text>
<text transform="translate(588.27 2028.00) scale(0.9537 1.0000)" font-size="93.5" >10</text>
<text x="676.0" y="1985.8" font-size="53">2</text>
<text transform="translate(881.67 2028.00) scale(0.9537 1.0000)" font-size="93.5" >10</text>
<text x="969.4" y="1985.8" font-size="53">3</text>
<text transform="translate(1175.07 2028.00) scale(0.9537 1.0000)" font-size="93.5" >10</text>
<text x="1262.8" y="1985.8" font-size="53">4</text>
<text transform="translate(1468.47 2028.00) scale(0.9537 1.0000)" font-size="93.5" >10</text>
<text x="1556.2" y="1985.8" font-size="53">5</text>
<text transform="translate(1761.87 2028.00) scale(0.9537 1.0000)" font-size="93.5" >10</text>
<text x="1849.6" y="1985.8" font-size="53">6</text>
<text transform="translate(2055.27 2028.00) scale(0.9537 1.0000)" font-size="93.5" >10</text>
<text x="2143.0" y="1985.8" font-size="53">7</text>
<text transform="translate(132.78 1883.75) scale(0.9277 1.0000)" font-size="94.5" >10</text>
<text transform="translate(218.95 1840.25) scale(1.0250 1.0000)" font-size="53" >-9</text>
<text transform="translate(132.78 1530.90) scale(0.9277 1.0000)" font-size="94.5" >10</text>
<text transform="translate(218.95 1487.40) scale(1.0250 1.0000)" font-size="53" >-8</text>
<text transform="translate(132.78 1178.05) scale(0.9277 1.0000)" font-size="94.5" >10</text>
<text x="219.00" y="1134.55" font-size="53" >-7</text>
<text transform="translate(132.78 825.20) scale(0.9277 1.0000)" font-size="94.5" >10</text>
<text x="219.00" y="781.70" font-size="53" >-6</text>
<text transform="translate(132.78 472.35) scale(0.9277 1.0000)" font-size="94.5" >10</text>
<text transform="translate(218.95 428.85) scale(1.0250 1.0000)" font-size="53" >-5</text>
<text transform="translate(132.78 119.50) scale(0.9277 1.0000)" font-size="94.5" >10</text>
<text transform="translate(219.05 76.00) scale(0.9762 1.0000)" font-size="53" >-4</text>
<text transform="translate(1128.36 2129.50) scale(1.1389 1.0000)" font-size="94" font-style="italic">f</text>
<text x="1163.50" y="2129.50" font-size="94" >,</text>
<text transform="translate(1205.48 2129.50) scale(0.9750 1.0000)" font-size="94" >Hz</text>
<g transform="translate(94 1168) rotate(-90)">
<text transform="translate(0.12 0.00) scale(0.9609 1.0000)" font-size="94" >σ</text>
<text x="53.00" y="0.00" font-size="94" >,</text>
<text transform="translate(94.21 0.00) scale(1.1387 1.0000)" font-size="97" >Ω</text>
<text transform="translate(172.03 -26.50) scale(1.0333 1.0000)" font-size="53" >−1</text>
<text transform="translate(227.75 -14.00) scale(0.6250 1.0000)" font-size="60" >·</text>
<text transform="translate(242.01 0.00) scale(0.9315 1.0000)" font-size="92" >cm</text>
<text transform="translate(348.04 -26.50) scale(1.0794 1.0000)" font-size="53" >−1</text>
</g>
<rect x="420.7" y="124.8" width="728.8" height="439" fill="#fff" stroke="#686868" stroke-width="3"/>
<text transform="translate(566.45 203.00) scale(0.9637 1.0000)" font-size="94" font-weight="bold">Zn-SiO</text>
<text transform="translate(850.80 225.90) scale(1.0500 1.0000)" font-size="53" font-weight="bold">2</text>
<text transform="translate(879.94 203.00) scale(0.9423 1.0000)" font-size="94" font-weight="bold">/Si</text>
<text transform="translate(430.37 297.00) scale(1.0131 1.0000)" font-size="64" >Ion dose: 7.5</text>
<text transform="translate(783.59 290.00) scale(1.1778 1.0000)" font-size="46" >×</text>
<text transform="translate(822.43 297.00) scale(1.0286 1.0000)" font-size="64" >10</text>
<text transform="translate(888.09 276.30) scale(1.0382 1.0000)" font-size="38" >16</text>
<text transform="translate(936.59 297.00) scale(1.0097 1.0000)" font-size="64" >ion/cm</text>
<text transform="translate(1117.27 275.80) scale(1.0133 1.0000)" font-size="38" >2</text>
<text transform="translate(513.46 368.80) scale(1.0210 1.0000)" font-size="64" >Ion energy: 150 keV</text>
<text transform="translate(626.24 448.60) scale(1.0317 1.0000)" font-size="75" font-style="italic">T</text>
<text transform="translate(667.36 463.60) scale(1.0373 1.0000)" font-size="37.5" >impl</text>
<text transform="translate(735.87 439.27) scale(1.2774 0.8125)" font-size="65" >=</text>
<text transform="translate(778.76 448.60) scale(1.0096 1.0000)" font-size="65" >773 K</text>
<text transform="translate(475.24 538.70) scale(0.8143 1.0000)" font-size="64" font-style="italic">T</text>
<text transform="translate(509.38 552.20) scale(1.1200 1.0000)" font-size="37.5" >a</text>
<text transform="translate(523.60 532.80) scale(1.2333 0.8000)" font-size="64" >=</text>
<text transform="translate(565.66 538.70) scale(1.0214 1.0000)" font-size="64" >973 K,</text>
<text transform="translate(758.45 538.70) scale(0.8500 1.0000)" font-size="64" font-style="italic">t</text>
<text transform="translate(770.73 532.80) scale(1.2900 0.8000)" font-size="64" >=</text>
<text transform="translate(813.66 538.70) scale(1.0120 1.0000)" font-size="64" >60 min, air</text>
<rect x="1486.2" y="888.5" width="547.6" height="924.8" fill="#fff" stroke="#686868" stroke-width="3"/>
<path d="M1528 978.9H1677.5" fill="none" stroke="#006830" stroke-width="2.6" stroke-opacity="0.55"/>
<path d="M1580.3 1000.7L1624.7 1000.7L1602.5 961.4Z" fill="none" stroke="#006830" stroke-width="5.0" stroke-linejoin="miter"/>
<text transform="translate(1717.75 997.30) scale(1.0293 1.0000)" font-size="75" font-style="italic">T</text>
<text transform="translate(1756.06 1014.90) scale(1.1400 1.0000)" font-size="46" >p</text>
<text transform="translate(1775.27 987.72) scale(1.1829 0.6947)" font-size="75" >=</text>
<text transform="translate(1824.10 997.30) scale(0.9300 1.0000)" font-size="75" >73</text>
<text transform="translate(1912.14 997.30) scale(1.0784 1.0000)" font-size="75" >K</text>
<path d="M1528 1087.3H1677.5" fill="none" stroke="#006428" stroke-width="2.6" stroke-opacity="0.55"/>
<path d="M1575.5 1088.3H1629.5M1602.5 1061.3V1115.3" fill="none" stroke="#006428" stroke-width="6.0" stroke-linejoin="miter"/>
<text transform="translate(1717.75 1105.75) scale(1.0293 1.0000)" font-size="75" font-style="italic">T</text>
<text transform="translate(1756.06 1123.35) scale(1.1400 1.0000)" font-size="46" >p</text>
<text transform="translate(1775.27 1096.17) scale(1.1829 0.6947)" font-size="75" >=</text>
<text transform="translate(1824.10 1105.75) scale(0.9300 1.0000)" font-size="75" >97</text>
<text transform="translate(1912.14 1105.75) scale(1.0784 1.0000)" font-size="75" >K</text>
<path d="M1528 1195.8H1677.5" fill="none" stroke="#ff6600" stroke-width="2.6" stroke-opacity="0.55"/>
<path d="M1580.3 1176.5L1624.7 1176.5L1602.5 1215.5Z" fill="none" stroke="#ff6600" stroke-width="5.0" stroke-linejoin="miter"/>
<text transform="translate(1717.75 1214.20) scale(1.0293 1.0000)" font-size="75" font-style="italic">T</text>
<text transform="translate(1756.06 1231.80) scale(1.1400 1.0000)" font-size="46" >p</text>
<text transform="translate(1775.27 1204.62) scale(1.1829 0.6947)" font-size="75" >=</text>
<text transform="translate(1824.10 1214.20) scale(0.9300 1.0000)" font-size="75" >121</text>
<text transform="translate(1946.84 1214.20) scale(1.0784 1.0000)" font-size="75" >K</text>
<path d="M1528 1304.2H1677.5" fill="none" stroke="#9900cc" stroke-width="2.6" stroke-opacity="0.55"/>
<path d="M1579.0 1281.5H1626.0V1328.5H1579.0Z" fill="none" stroke="#9900cc" stroke-width="6.0" stroke-linejoin="miter"/>
<text transform="translate(1717.75 1322.65) scale(1.0293 1.0000)" font-size="75" font-style="italic">T</text>
<text transform="translate(1756.06 1340.25) scale(1.1400 1.0000)" font-size="46" >p</text>
<text transform="translate(1775.27 1313.07) scale(1.1829 0.6947)" font-size="75" >=</text>
<text transform="translate(1824.10 1322.65) scale(0.9300 1.0000)" font-size="75" >145</text>
<text transform="translate(1946.84 1322.65) scale(1.0784 1.0000)" font-size="75" >K</text>
<path d="M1528 1412.7H1677.5" fill="none" stroke="#80ff00" stroke-width="2.6" stroke-opacity="0.55"/>
<path d="M1602.5 1387.2L1609.9 1400.0L1624.6 1400.0L1617.2 1412.7L1624.6 1425.5L1609.9 1425.5L1602.5 1438.2L1595.1 1425.5L1580.4 1425.5L1587.8 1412.7L1580.4 1400.0L1595.1 1400.0Z" fill="none" stroke="#80ff00" stroke-width="3.6" stroke-linejoin="round"/>
<text transform="translate(1717.75 1431.10) scale(1.0293 1.0000)" font-size="75" font-style="italic">T</text>
<text transform="translate(1756.06 1448.70) scale(1.1400 1.0000)" font-size="46" >p</text>
<text transform="translate(1775.27 1421.52) scale(1.1829 0.6947)" font-size="75" >=</text>
<text transform="translate(1824.10 1431.10) scale(0.9300 1.0000)" font-size="75" >193</text>
<text transform="translate(1946.84 1431.10) scale(1.0784 1.0000)" font-size="75" >K</text>
<path d="M1528 1521.2H1677.5" fill="none" stroke="#000000" stroke-width="2.6" stroke-opacity="0.55"/>
<path d="M1580.3 1543.0L1624.7 1543.0L1602.5 1503.7Z" fill="none" stroke="#000000" stroke-width="5.0" stroke-linejoin="miter"/>
<text transform="translate(1717.75 1539.55) scale(1.0293 1.0000)" font-size="75" font-style="italic">T</text>
<text transform="translate(1756.06 1557.15) scale(1.1400 1.0000)" font-size="46" >p</text>
<text transform="translate(1775.27 1529.97) scale(1.1829 0.6947)" font-size="75" >=</text>
<text transform="translate(1824.10 1539.55) scale(0.9300 1.0000)" font-size="75" >249</text>
<text transform="translate(1946.84 1539.55) scale(1.0784 1.0000)" font-size="75" >K</text>
<path d="M1528 1629.6H1677.5" fill="none" stroke="#ff00ff" stroke-width="2.6" stroke-opacity="0.55"/>
<path d="M1580.3 1610.3L1624.7 1610.3L1602.5 1649.3Z" fill="none" stroke="#ff00ff" stroke-width="5.0" stroke-linejoin="miter"/>
<text transform="translate(1717.75 1648.00) scale(1.0293 1.0000)" font-size="75" font-style="italic">T</text>
<text transform="translate(1756.06 1665.60) scale(1.1400 1.0000)" font-size="46" >p</text>
<text transform="translate(1775.27 1638.42) scale(1.1829 0.6947)" font-size="75" >=</text>
<text transform="translate(1824.10 1648.00) scale(0.9300 1.0000)" font-size="75" >291</text>
<text transform="translate(1946.84 1648.00) scale(1.0784 1.0000)" font-size="75" >K</text>
<path d="M1528 1738.0H1677.5" fill="none" stroke="#00008c" stroke-width="2.6" stroke-opacity="0.55"/>
<path d="M1602.5 1712.5L1609.9 1725.3L1624.6 1725.3L1617.2 1738.0L1624.6 1750.8L1609.9 1750.8L1602.5 1763.5L1595.1 1750.8L1580.4 1750.8L1587.8 1738.0L1580.4 1725.3L1595.1 1725.3Z" fill="none" stroke="#00008c" stroke-width="3.6" stroke-linejoin="round"/>
<text transform="translate(1717.75 1756.45) scale(1.0293 1.0000)" font-size="75" font-style="italic">T</text>
<text transform="translate(1756.06 1774.05) scale(1.1400 1.0000)" font-size="46" >p</text>
<text transform="translate(1775.27 1746.87) scale(1.1829 0.6947)" font-size="75" >=</text>
<text transform="translate(1824.10 1756.45) scale(0.9300 1.0000)" font-size="75" >333</text>
<text transform="translate(1946.84 1756.45) scale(1.0784 1.0000)" font-size="75" >K</text>
</svg></body></html>
